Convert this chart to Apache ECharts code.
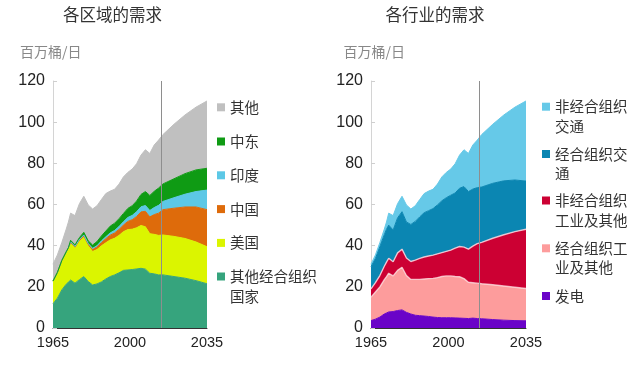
<!DOCTYPE html>
<html>
<head>
<meta charset="utf-8">
<script src="https://cdn.jsdelivr.net/npm/echarts@6/dist/echarts.min.js"></script>
<style>html,body{margin:0;padding:0;background:#fff}#c{width:640px;height:365px}</style>
</head>
<body>
<div id="c"></div>
<script>
// ---- data ----
const years = [1965,1967,1969,1971,1972,1973,1975,1977,1979,1981,1983,1985,1987,1989,1991,1993,1995,1997,1999,2001,2003,2005,2007,2009,2011,2013,2015,2020,2025,2030,2035];
const xTickLabels = [1965, 2000, 2035];
const yMax = 120;
const yInterval = 20;
const outlookStart = 2014;

// left chart: demand by region (mb/d)
const otherOECD = [11.8,14.5,18.5,21.3,22.3,23.3,21.8,23.5,25.0,22.6,20.9,21.4,22.4,23.8,25.0,25.8,26.8,28.0,28.2,28.4,28.7,29.0,28.6,26.6,26.3,25.8,25.8,25.0,24.2,23.0,21.5];
const usa       = [11.0,12.5,14.3,15.7,16.7,17.8,17.0,18.6,19.0,17.3,16.3,16.7,17.5,17.6,17.8,17.8,18.2,18.8,19.6,19.6,20.0,20.8,20.6,19.2,19.2,19.2,19.4,19.5,19.3,18.8,18.0];
const china     = [0,0,0,0,0,0.5,0.5,0.6,0.8,0.8,1.0,1.3,1.6,2.0,2.3,2.6,2.9,3.2,4.0,4.6,5.5,6.6,7.5,8.2,9.6,10.8,12.3,13.7,15.3,17.0,18.0];
const india     = [0,0,0,0,0,0.3,0.3,0.3,0.4,0.4,0.5,0.6,0.8,0.9,1.1,1.2,1.4,1.6,1.9,2.1,2.3,2.5,2.8,3.1,3.4,3.8,4.0,5.1,6.2,7.5,9.5];
const middleEast= [0,0,0,0,0,0.7,0.8,0.9,1.3,1.3,1.6,2.0,2.4,2.8,3.3,3.5,3.8,4.0,4.4,4.7,5.2,6.0,6.8,7.3,7.9,8.4,8.5,9.2,10.0,10.5,10.6];
const otherRegion=[8.2,8.5,8.7,11.0,12.5,13.2,14.2,16.5,17.5,17.4,17.5,17.4,17.7,18.2,17.0,16.5,16.8,17.8,17.5,17.8,18.1,19.1,20.3,20.4,22.5,23.3,24.0,26.5,28.5,30.5,32.7];

// right chart: demand by sector (mb/d)
const power          = [3.6,4.3,5.3,6.8,7.3,7.8,8.0,8.5,8.8,7.6,6.8,6.2,6.0,5.8,5.6,5.3,5.1,5.0,5.0,5.0,4.9,4.8,4.7,4.6,4.8,4.6,4.5,4.1,3.8,3.6,3.5];
const oecdIndustry   = [11.4,13.2,14.7,16.7,17.7,18.8,17.3,19.5,20.7,17.9,16.8,17.4,17.6,18.0,18.4,18.8,19.4,20.0,20.3,20.3,20.1,20.1,19.3,17.6,17.2,17.2,17.0,16.9,16.6,16.2,15.7];
const nonOecdIndustry= [4.0,4.5,5.5,6.5,7.0,7.3,6.9,8.5,8.8,8.5,8.7,9.4,10.2,10.7,11.0,11.3,11.5,11.6,11.9,12.5,13.8,14.7,15.3,16.1,17.8,19.2,20.1,22.6,24.9,27.0,28.8];
const oecdTransport  = [10.8,11.8,14.0,15.3,16.0,16.1,15.4,17.0,18.2,17.5,18.0,18.8,20.2,21.5,22.0,22.6,23.8,25.2,26.1,26.7,26.8,28.3,29.4,28.0,27.7,27.2,26.9,26.7,26.2,25.1,23.4];
const nonOecdTransport=[1.2,1.7,2.0,2.7,3.5,5.8,7.0,6.9,7.5,8.3,7.5,7.6,8.4,9.3,9.5,9.4,10.1,11.6,12.3,12.7,14.2,16.1,17.9,18.5,21.4,23.1,25.5,28.7,32.0,35.4,38.9];

// ---- series definitions (bottom to top); legend label lines ----
const leftSeries = [
  {name:'其他经合组织国家', lines:['其他经合组织','国家'], data: otherOECD,   color:'#36a47d'},
  {name:'美国',           lines:['美国'],              data: usa,         color:'#dbf500'},
  {name:'中国',           lines:['中国'],              data: china,       color:'#de6b0b'},
  {name:'印度',           lines:['印度'],              data: india,       color:'#5cc8e6'},
  {name:'中东',           lines:['中东'],              data: middleEast,  color:'#0f9b14'},
  {name:'其他',           lines:['其他'],              data: otherRegion, color:'#c0c0c0'}
];
const rightSeries = [
  {name:'发电',               lines:['发电'],                data: power,            color:'#6a04c8'},
  {name:'经合组织工业及其他',   lines:['经合组织工','业及其他'],   data: oecdIndustry,     color:'#fd9c9c', seam:'rgba(255,235,235,0.7)'},
  {name:'非经合组织工业及其他', lines:['非经合组织','工业及其他'], data: nonOecdIndustry,  color:'#cc0033', seam:'rgba(255,210,220,0.85)'},
  {name:'经合组织交通',         lines:['经合组织交','通'],        data: oecdTransport,    color:'#0b86b2'},
  {name:'非经合组织交通',       lines:['非经合组织','交通'],      data: nonOecdTransport, color:'#66c9e8'}
];

const FONT = '"Liberation Sans", Arial, "Noto Sans CJK SC", sans-serif';
const CJK = '"Noto Sans CJK SC", "Liberation Sans", sans-serif';

function makeSeries(def, axisIdx, stack, isTop) {
  const s = {
    type: 'line', name: def.name, xAxisIndex: axisIdx, yAxisIndex: axisIdx, stack: stack,
    // value first so the stack is applied to the value (y) dimension
    data: years.map((y, i) => [def.data[i], y]),
    encode: {x: 1, y: 0},
    symbol: 'none', showSymbol: false, silent: true,
    lineStyle: def.seam ? {width: 1.4, color: def.seam} : {width: 1, color: def.color},
    itemStyle: {color: def.color},
    areaStyle: {color: def.color, opacity: 1},
    emphasis: {disabled: true},
    z: 2
  };
  if (isTop) {
    s.markLine = {
      silent: true, symbol: ['none','none'], label: {show: false},
      lineStyle: {color: '#8e8e8e', width: 1, type: 'solid'},
      data: [{xAxis: outlookStart}],
      animation: false
    };
  }
  return s;
}

const grids = [
  {left: 53, top: 81, width: 154, height: 247},
  {left: 371, top: 81, width: 155, height: 247}
];

function xAxis(gi) {
  return {
    type: 'value', gridIndex: gi, min: 1965, max: 2035,
    axisLine: {show: true, lineStyle: {color: '#333', width: 1}},
    axisTick: {show: false},
    splitLine: {show: false},
    axisLabel: {customValues: xTickLabels, formatter: v => String(v), color: '#222', fontSize: 14.5, fontFamily: FONT, margin: 8}
  };
}
function yAxis(gi) {
  return {
    type: 'value', gridIndex: gi, min: 0, max: yMax, interval: yInterval,
    axisLine: {show: true, lineStyle: {color: '#d4d4d4', width: 1}},
    axisTick: {show: true, inside: true, length: 4, lineStyle: {color: '#cfcfcf'}},
    splitLine: {show: false},
    axisLabel: {color: '#222', fontSize: 16, fontFamily: FONT, margin: 8}
  };
}

const series = [];
leftSeries.forEach((d, i) => series.push(makeSeries(d, 0, 'L', i === leftSeries.length - 1)));
rightSeries.forEach((d, i) => series.push(makeSeries(d, 1, 'R', i === rightSeries.length - 1)));

// legends: one component per item so each can be placed; wrapped lines as extra text
const LH = 19.5;
const LEG_FONT = 14.5;
const legends = [];
const extraText = [];
function legendItem(def, left, yc) {
  legends.push({
    data: [def.name], left: left, top: yc - LH / 2, orient: 'vertical',
    icon: 'rect', itemWidth: 8, itemHeight: 8, padding: 0, selectedMode: false,
    formatter: () => def.lines[0],
    textStyle: {fontSize: LEG_FONT, color: '#333', fontFamily: CJK, lineHeight: LH}
  });
  for (let k = 1; k < def.lines.length; k++) {
    extraText.push({type: 'text', x: left + 13, y: yc + LH * k,
      style: {text: def.lines[k], font: LEG_FONT + 'px ' + CJK, fill: '#333', align: 'left', verticalAlign: 'middle'}});
  }
}
const leftLegendCenters = [107.3, 141.5, 175.3, 209.1, 242.9, 276.5];
const rightLegendCenters = [106.7, 154.0, 200.5, 248.3, 296.0];
leftSeries.slice().reverse().forEach((d, i) => legendItem(d, 217, leftLegendCenters[i]));
rightSeries.slice().reverse().forEach((d, i) => legendItem(d, 542, rightLegendCenters[i]));

const option = {
  animation: false,
  backgroundColor: '#fff',
  grid: grids,
  xAxis: [xAxis(0), xAxis(1)],
  yAxis: [yAxis(0), yAxis(1)],
  legend: legends,
  series: series,
  graphic: [
    {type: 'text', x: 112.5, y: 15, style: {text: '各区域的需求', font: '16.5px ' + CJK, fill: '#333', align: 'center', verticalAlign: 'middle'}},
    {type: 'text', x: 435, y: 15, style: {text: '各行业的需求', font: '16.5px ' + CJK, fill: '#333', align: 'center', verticalAlign: 'middle'}},
    {type: 'text', x: 20, y: 52, style: {text: '百万桶/日', font: '14px ' + CJK, fill: '#888', align: 'left', verticalAlign: 'middle'}},
    {type: 'text', x: 343.5, y: 52, style: {text: '百万桶/日', font: '14px ' + CJK, fill: '#888', align: 'left', verticalAlign: 'middle'}}
  ].concat(extraText)
};

const chart = echarts.init(document.getElementById('c'), null, {renderer: 'canvas'});
chart.setOption(option);
</script>
</body>
</html>
